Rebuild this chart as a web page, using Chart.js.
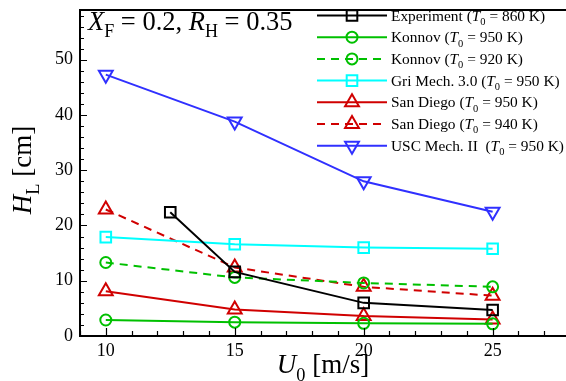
<!DOCTYPE html>
<html>
<head>
<meta charset="utf-8">
<script src="https://cdn.jsdelivr.net/npm/chart.js@4"></script>
<style>
  html, body { margin: 0; padding: 0; background: #fff; overflow: hidden; }
  #wrap { width: 566px; height: 381px; overflow: hidden; }
</style>
</head>
<body>
<div id="wrap"><canvas id="c" width="600" height="381"></canvas></div>
<script>
// donnees : H_L [cm] en fonction de U0 [m/s]
const uExp = [12.5, 15, 20, 25];
const u0 = [10, 15, 20, 25];
const hExp = [22.4, 11.6, 6.0, 4.7];
const hKonnov950 = [2.9, 2.5, 2.3, 2.2];
const hKonnov920 = [13.3, 10.6, 9.6, 8.9];
const hGri950 = [17.9, 16.6, 16.0, 15.8];
const hSanDiego950 = [8.1, 4.8, 3.6, 3.0];
const hSanDiego940 = [22.9, 12.4, 8.9, 7.3];
const hUSC950 = [47.3, 38.8, 28.0, 22.5];

const legendNames = ['Experiment', 'Konnov', 'Konnov', 'Gri Mech. 3.0', 'San Diego', 'San Diego', 'USC Mech. II '];
const legendT0 = [860, 950, 920, 950, 950, 940, 950];
const xTicks = [10, 15, 20, 25];
const yTicks = [0, 10, 20, 30, 40, 50];

const FONT = 'Liberation Serif';

function pts(xs, ys) {
  return xs.map((x, i) => ({ x: x, y: ys[i] }));
}

function serie(label, xs, ys, color, style, dashed, rot, radius) {
  return {
    label: label,
    data: pts(xs, ys),
    showLine: true,
    borderColor: color,
    backgroundColor: 'transparent',
    borderWidth: 2,
    borderDash: dashed ? [8, 6] : [],
    pointStyle: style,
    rotation: rot || 0,
    pointRadius: radius,
    pointBorderWidth: 2,
    pointBorderColor: color,
    pointBackgroundColor: 'transparent'
  };
}

const datasets = [
  serie('exp', uExp, hExp, '#000000', 'rect', false, 0, 7.5),
  serie('k950', u0, hKonnov950, '#00c000', 'circle', false, 0, 5.5),
  serie('k920', u0, hKonnov920, '#00c000', 'circle', true, 0, 5.5),
  serie('gri', u0, hGri950, '#00ffff', 'rect', false, 0, 7.5),
  serie('sd950', u0, hSanDiego950, '#d00000', 'triangle', false, 0, 8),
  serie('sd940', u0, hSanDiego940, '#d00000', 'triangle', true, 0, 8),
  serie('usc', u0, hUSC950, '#3030ff', 'triangle', false, 180, 8)
];

// texte avec indices / italique : parts = [[texte, 'n'|'i'|'s'], ...]
function drawRich(ctx, parts, x, y, size, align) {
  const fontOf = (k) => {
    const s = k === 's' ? size * 0.68 : size;
    const it = k === 'i' ? 'italic ' : '';
    return it + s + 'px "' + FONT + '"';
  };
  let total = 0;
  parts.forEach(p => { ctx.font = fontOf(p[1]); total += ctx.measureText(p[0]).width; });
  let cx = align === 'center' ? x - total / 2 : x;
  ctx.textAlign = 'left';
  ctx.textBaseline = 'alphabetic';
  parts.forEach(p => {
    ctx.font = fontOf(p[1]);
    const dy = p[1] === 's' ? size * 0.28 : 0;
    ctx.fillText(p[0], cx, y + dy);
    cx += ctx.measureText(p[0]).width;
  });
}

const decor = {
  id: 'decor',
  afterDraw(chart) {
    const ctx = chart.ctx;
    const a = chart.chartArea;
    const xs = chart.scales.x, ys = chart.scales.y;
    ctx.save();
    ctx.strokeStyle = '#000';
    ctx.fillStyle = '#000';

    // cadre
    ctx.lineWidth = 2;
    ctx.strokeRect(a.left, a.top, a.right - a.left, a.bottom - a.top);

    // graduations vers l'interieur
    ctx.lineWidth = 1.2;
    ctx.beginPath();
    for (let v = 9; v <= 28; v++) {
      const px = Math.round(xs.getPixelForValue(v)) + 0.5;
      const len = v % 5 === 0 ? 8 : 5;
      ctx.moveTo(px, a.bottom); ctx.lineTo(px, a.bottom - len);
    }
    for (let v = 0; v <= 58; v += 2) {
      const py = Math.round(ys.getPixelForValue(v)) + 0.5;
      const len = v % 10 === 0 ? 7 : 4;
      ctx.moveTo(a.left, py); ctx.lineTo(a.left + len, py);
    }
    ctx.stroke();

    // titres des axes
    drawRich(ctx, [['U', 'i'], ['0', 's'], [' [m/s]', 'n']], 323, 373, 27, 'center');
    ctx.save();
    ctx.translate(31, 170);
    ctx.rotate(-Math.PI / 2);
    drawRich(ctx, [['H', 'i'], ['L', 's'], [' [cm]', 'n']], 0, 0, 27, 'center');
    ctx.restore();

    // annotation
    drawRich(ctx, [['X', 'i'], ['F', 's'], [' = 0.2, ', 'n'], ['R', 'i'], ['H', 's'], [' = 0.35', 'n']], 88, 30, 26.5, 'left');

    // legende
    legendNames.forEach((name, i) => {
      const ds = chart.data.datasets[i];
      const y = 15.5 + i * 21.7;
      ctx.save();
      ctx.strokeStyle = ds.borderColor;
      ctx.fillStyle = 'rgba(0,0,0,0)';
      ctx.lineWidth = 2;
      ctx.setLineDash(ds.borderDash);
      ctx.beginPath();
      ctx.moveTo(317, y); ctx.lineTo(387, y);
      ctx.stroke();
      ctx.setLineDash([]);
      if (Chart.helpers && Chart.helpers.drawPoint) {
        Chart.helpers.drawPoint(ctx, {
          pointStyle: ds.pointStyle, rotation: ds.rotation,
          radius: ds.pointRadius, borderWidth: 2
        }, 352, y);
      }
      ctx.restore();
      ctx.fillStyle = '#000';
      drawRich(ctx, [[name + ' (', 'n'], ['T', 'i'], ['0', 's'], [' = ' + legendT0[i] + ' K)', 'n']], 391, y + 5, 15.4, 'left');
    });
    ctx.restore();
  }
};

new Chart(document.getElementById('c'), {
  type: 'scatter',
  data: { datasets: datasets },
  plugins: [decor],
  options: {
    responsive: false,
    animation: false,
    devicePixelRatio: 1,
    layout: { padding: { left: 0, top: 5, right: 30, bottom: 0 } },
    plugins: { legend: { display: false }, tooltip: { enabled: false } },
    scales: {
      x: {
        type: 'linear', min: 9, max: 28,
        afterBuildTicks: (s) => { s.ticks = xTicks.map(v => ({ value: v })); },
        afterFit: (s) => { s.height = 45; s.paddingLeft = 0; s.paddingRight = 0; },
        grid: { display: false, drawTicks: false },
        border: { display: false },
        ticks: { color: '#000', padding: 4, autoSkip: false, maxRotation: 0, font: { family: FONT, size: 18 } }
      },
      y: {
        type: 'linear', min: 0, max: 59,
        afterBuildTicks: (s) => { s.ticks = yTicks.map(v => ({ value: v })); },
        afterFit: (s) => { s.width = 80; s.paddingTop = 0; s.paddingBottom = 0; },
        grid: { display: false, drawTicks: false },
        border: { display: false },
        ticks: { color: '#000', padding: 7, autoSkip: false, font: { family: FONT, size: 18 } }
      }
    }
  }
});
</script>
</body>
</html>
